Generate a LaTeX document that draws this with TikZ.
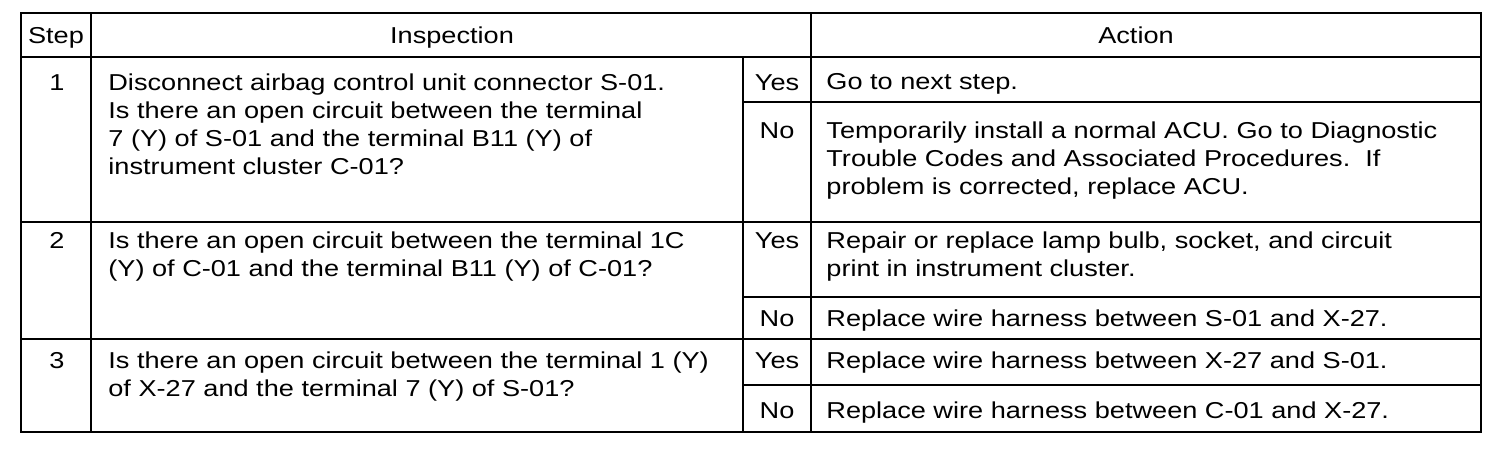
\documentclass[tikz,border=0pt]{standalone}
\usepackage{fontspec}
\setmainfont{Liberation Sans}[FakeStretch=1.18]
\begin{document}
\begin{tikzpicture}[x=0.5pt,y=-0.5pt,
  grid/.style={line width=0.9pt,black},
  txt/.style={inner sep=0pt,font=\fontsize{11.5pt}{14pt}\selectfont,align=left,anchor=north west},
  ctr/.style={inner sep=0pt,font=\fontsize{11.5pt}{14pt}\selectfont,anchor=base}]
\useasboundingbox[fill=white] (0,0) rectangle (1504,452);
% table grid
\draw[grid] (21,13) rectangle (1481,432);
\draw[grid] (21,57) -- (1481,57);
\draw[grid] (91,13) -- (91,432);
\draw[grid] (743,57) -- (743,432);
\draw[grid] (811,13) -- (811,432);
\draw[grid] (21,222) -- (1481,222);
\draw[grid] (21,339) -- (1481,339);
\draw[grid] (743,102) -- (1481,102);
\draw[grid] (743,297) -- (1481,297);
\draw[grid] (743,385) -- (1481,385);
% header
\node[ctr] (hstep) at (56,43) {Step};
\node[ctr] (hinsp) at (452,43) {Inspection};
\node[ctr] (hact) at (1136,43) {Action};
% step numbers
\node[ctr] (s1) at (57,90) {1};
\node[ctr] (s2) at (57,248) {2};
\node[ctr] (s3) at (57,368) {3};
% inspection
\node[txt] (i1) at (108,73) {Disconnect airbag control unit connector S-01.\\Is there an open circuit between the terminal\\7 (Y) of S-01 and the terminal B11 (Y) of\\instrument cluster C-01?};
\node[txt] (i2) at (108,231) {Is there an open circuit between the terminal 1C\\(Y) of C-01 and the terminal B11 (Y) of C-01?};
\node[txt] (i3) at (108,351) {Is there an open circuit between the terminal 1 (Y)\\of X-27 and the terminal 7 (Y) of S-01?};
% yes/no
\node[ctr] (y1) at (777,90) {Yes};
\node[ctr] (n1) at (777,138) {No};
\node[ctr] (y2) at (777,248) {Yes};
\node[ctr] (n2) at (777,326) {No};
\node[ctr] (y3) at (777,368) {Yes};
\node[ctr] (n3) at (777,418) {No};
% actions
\node[txt] (a1) at (826,73) {Go to next step.};
\node[txt] (a2) at (826,121) {Temporarily install a normal ACU. Go to Diagnostic\\Trouble Codes and Associated Procedures.\ \ If\\problem is corrected, replace ACU.};
\node[txt] (a3) at (826,231) {Repair or replace lamp bulb, socket, and circuit\\print in instrument cluster.};
\node[txt] (a4) at (826,309) {Replace wire harness between S-01 and X-27.};
\node[txt] (a5) at (826,351) {Replace wire harness between X-27 and S-01.};
\node[txt] (a6) at (826,401) {Replace wire harness between C-01 and X-27.};
\end{tikzpicture}
\end{document}
